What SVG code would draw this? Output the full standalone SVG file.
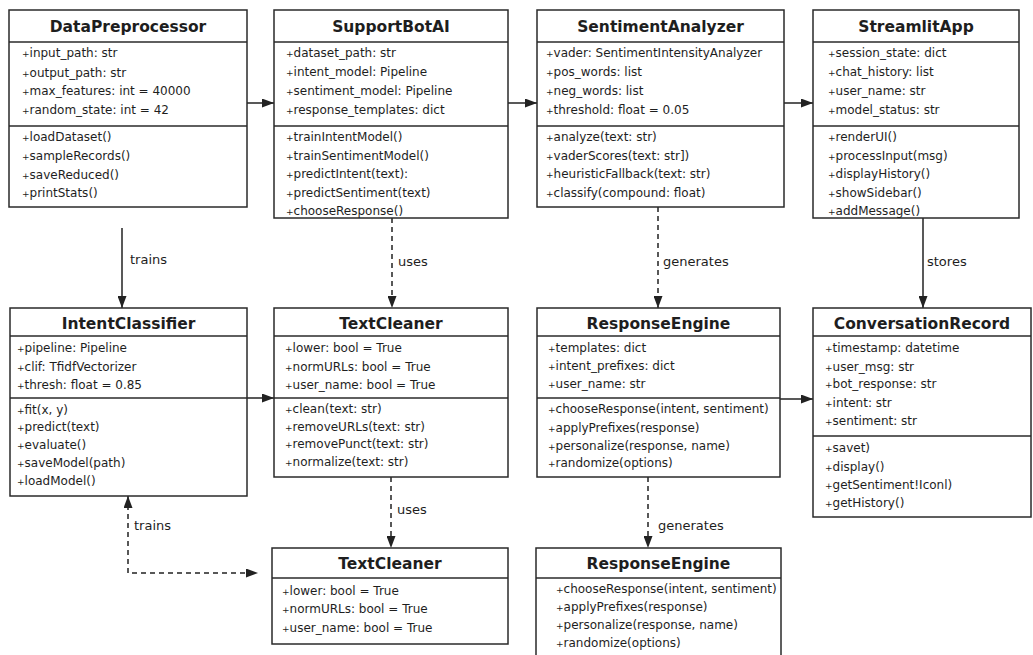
<svg xmlns="http://www.w3.org/2000/svg" width="1033" height="655" viewBox="0 0 1033 655">
<style>
.box{fill:#fff;stroke:#2a2a2a;stroke-width:1.5}
.sep{stroke:#2a2a2a;stroke-width:1.3}
.title{font-family:"DejaVu Sans",sans-serif;font-weight:bold;font-size:15.5px;fill:#1e1e1e;text-anchor:middle}
.m{font-family:"DejaVu Sans",sans-serif;font-size:12px;fill:#1e1e1e}
.p{font-size:9px}
.lbl{font-family:"DejaVu Sans",sans-serif;font-size:13px;fill:#1e1e1e}
.c{fill:none;stroke:#222;stroke-width:1.5}
.d{stroke-dasharray:5,4}
</style>
<defs>
<marker id="arr" viewBox="0 0 12 9" refX="12" refY="4.5" markerWidth="12" markerHeight="9" markerUnits="userSpaceOnUse" orient="auto-start-reverse"><path d="M0,0 L12,4.5 L0,9 z" fill="#222"/></marker>
</defs>
<rect width="1033" height="655" fill="#fff"/>

<g id="connectors">
<path class="c" d="M247,103 H274" marker-end="url(#arr)"/>
<path class="c" d="M508,103 H537" marker-end="url(#arr)"/>
<path class="c" d="M784,103 H813" marker-end="url(#arr)"/>
<path class="c" d="M122,228 V308" marker-end="url(#arr)"/>
<path class="c d" d="M392,218 V308" marker-end="url(#arr)"/>
<path class="c d" d="M658,207 V308" marker-end="url(#arr)"/>
<path class="c" d="M923,218 V308" marker-end="url(#arr)"/>
<path class="c" d="M247,398 H274" marker-end="url(#arr)"/>
<path class="c" d="M780,399 H813" marker-end="url(#arr)"/>
<path class="c d" d="M391,477 V548" marker-end="url(#arr)"/>
<path class="c d" d="M648,477 V548" marker-end="url(#arr)"/>
<path class="c d" d="M128,496 V573 H258" marker-start="url(#arr)" marker-end="url(#arr)"/>
<text class="lbl" x="130" y="264">trains</text>
<text class="lbl" x="398" y="266">uses</text>
<text class="lbl" x="663" y="266">generates</text>
<text class="lbl" x="927" y="266">stores</text>
<text class="lbl" x="397" y="514">uses</text>
<text class="lbl" x="658" y="530">generates</text>
<text class="lbl" x="134" y="530">trains</text>
</g>

<g id="DataPreprocessor">
<rect class="box" x="9" y="10" width="238" height="197"/>
<line class="sep" x1="9" y1="42" x2="247" y2="42"/>
<line class="sep" x1="9" y1="126" x2="247" y2="126"/>
<text class="title" x="128" y="32">DataPreprocessor</text>
<text class="m" x="22" y="57"><tspan class="p">+</tspan>input_path: str</text>
<text class="m" x="22" y="77"><tspan class="p">+</tspan>output_path: str</text>
<text class="m" x="22" y="95"><tspan class="p">+</tspan>max_features: int = 40000</text>
<text class="m" x="22" y="114"><tspan class="p">+</tspan>random_state: int = 42</text>
<text class="m" x="22" y="141"><tspan class="p">+</tspan>loadDataset()</text>
<text class="m" x="22" y="160"><tspan class="p">+</tspan>sampleRecords()</text>
<text class="m" x="22" y="179"><tspan class="p">+</tspan>saveReduced()</text>
<text class="m" x="22" y="197"><tspan class="p">+</tspan>printStats()</text>
</g>

<g id="SupportBotAI">
<rect class="box" x="274" y="10" width="234" height="208"/>
<line class="sep" x1="274" y1="42" x2="508" y2="42"/>
<line class="sep" x1="274" y1="126" x2="508" y2="126"/>
<text class="title" x="391" y="32">SupportBotAI</text>
<text class="m" x="286" y="57"><tspan class="p">+</tspan>dataset_path: str</text>
<text class="m" x="286" y="76"><tspan class="p">+</tspan>intent_model: Pipeline</text>
<text class="m" x="286" y="95"><tspan class="p">+</tspan>sentiment_model: Pipeline</text>
<text class="m" x="286" y="114"><tspan class="p">+</tspan>response_templates: dict</text>
<text class="m" x="286" y="141"><tspan class="p">+</tspan>trainIntentModel()</text>
<text class="m" x="286" y="160"><tspan class="p">+</tspan>trainSentimentModel()</text>
<text class="m" x="286" y="178"><tspan class="p">+</tspan>predictIntent(text):</text>
<text class="m" x="286" y="197"><tspan class="p">+</tspan>predictSentiment(text)</text>
<text class="m" x="286" y="215"><tspan class="p">+</tspan>chooseResponse()</text>
</g>

<g id="SentimentAnalyzer">
<rect class="box" x="537" y="10" width="247" height="197"/>
<line class="sep" x1="537" y1="42" x2="784" y2="42"/>
<line class="sep" x1="537" y1="126" x2="784" y2="126"/>
<text class="title" x="660.5" y="32">SentimentAnalyzer</text>
<text class="m" x="546" y="57"><tspan class="p">+</tspan>vader: SentimentIntensityAnalyzer</text>
<text class="m" x="546" y="76"><tspan class="p">+</tspan>pos_words: list</text>
<text class="m" x="546" y="95"><tspan class="p">+</tspan>neg_words: list</text>
<text class="m" x="546" y="114"><tspan class="p">+</tspan>threshold: float = 0.05</text>
<text class="m" x="546" y="141"><tspan class="p">+</tspan>analyze(text: str)</text>
<text class="m" x="546" y="160"><tspan class="p">+</tspan>vaderScores(text: str])</text>
<text class="m" x="546" y="178"><tspan class="p">+</tspan>heuristicFallback(text: str)</text>
<text class="m" x="546" y="197"><tspan class="p">+</tspan>classify(compound: float)</text>
</g>

<g id="StreamlitApp">
<rect class="box" x="813" y="10" width="206" height="208"/>
<line class="sep" x1="813" y1="42" x2="1019" y2="42"/>
<line class="sep" x1="813" y1="126" x2="1019" y2="126"/>
<text class="title" x="916" y="32">StreamlitApp</text>
<text class="m" x="828" y="57"><tspan class="p">+</tspan>session_state: dict</text>
<text class="m" x="828" y="76"><tspan class="p">+</tspan>chat_history: list</text>
<text class="m" x="828" y="95"><tspan class="p">+</tspan>user_name: str</text>
<text class="m" x="828" y="114"><tspan class="p">+</tspan>model_status: str</text>
<text class="m" x="828" y="141"><tspan class="p">+</tspan>renderUI()</text>
<text class="m" x="828" y="160"><tspan class="p">+</tspan>processInput(msg)</text>
<text class="m" x="828" y="178"><tspan class="p">+</tspan>displayHistory()</text>
<text class="m" x="828" y="197"><tspan class="p">+</tspan>showSidebar()</text>
<text class="m" x="828" y="215"><tspan class="p">+</tspan>addMessage()</text>
</g>

<g id="IntentClassifier">
<rect class="box" x="10" y="308" width="237" height="188"/>
<line class="sep" x1="10" y1="336" x2="247" y2="336"/>
<line class="sep" x1="10" y1="398" x2="247" y2="398"/>
<text class="title" x="128.5" y="329">IntentClassifier</text>
<text class="m" x="17" y="352"><tspan class="p">+</tspan>pipeline: Pipeline</text>
<text class="m" x="17" y="371"><tspan class="p">+</tspan>clif: TfidfVectorizer</text>
<text class="m" x="17" y="389"><tspan class="p">+</tspan>thresh: float =  0.85</text>
<text class="m" x="17" y="414"><tspan class="p">+</tspan>fit(x, y)</text>
<text class="m" x="17" y="431"><tspan class="p">+</tspan>predict(text)</text>
<text class="m" x="17" y="449"><tspan class="p">+</tspan>evaluate()</text>
<text class="m" x="17" y="467"><tspan class="p">+</tspan>saveModel(path)</text>
<text class="m" x="17" y="485"><tspan class="p">+</tspan>loadModel()</text>
</g>

<g id="TextCleaner">
<rect class="box" x="274" y="308" width="234" height="169"/>
<line class="sep" x1="274" y1="336" x2="508" y2="336"/>
<line class="sep" x1="274" y1="398" x2="508" y2="398"/>
<text class="title" x="391" y="329">TextCleaner</text>
<text class="m" x="285" y="352"><tspan class="p">+</tspan>lower: bool = True</text>
<text class="m" x="285" y="371"><tspan class="p">+</tspan>normURLs: bool = True</text>
<text class="m" x="285" y="389"><tspan class="p">+</tspan>user_name: bool = True</text>
<text class="m" x="285" y="413"><tspan class="p">+</tspan>clean(text: str)</text>
<text class="m" x="285" y="431"><tspan class="p">+</tspan>removeURLs(text: str)</text>
<text class="m" x="285" y="448"><tspan class="p">+</tspan>removePunct(text: str)</text>
<text class="m" x="285" y="466"><tspan class="p">+</tspan>normalize(text: str)</text>
</g>

<g id="ResponseEngine">
<rect class="box" x="537" y="308" width="243" height="169"/>
<line class="sep" x1="537" y1="336" x2="780" y2="336"/>
<line class="sep" x1="537" y1="398" x2="780" y2="398"/>
<text class="title" x="658.5" y="329">ResponseEngine</text>
<text class="m" x="548" y="352"><tspan class="p">+</tspan>templates: dict</text>
<text class="m" x="548" y="370"><tspan class="p">+</tspan>intent_prefixes: dict</text>
<text class="m" x="548" y="388"><tspan class="p">+</tspan>user_name: str</text>
<text class="m" x="548" y="413"><tspan class="p">+</tspan>chooseResponse(intent, sentiment)</text>
<text class="m" x="548" y="432"><tspan class="p">+</tspan>applyPrefixes(response)</text>
<text class="m" x="548" y="450"><tspan class="p">+</tspan>personalize(response, name)</text>
<text class="m" x="548" y="467"><tspan class="p">+</tspan>randomize(options)</text>
</g>

<g id="ConversationRecord">
<rect class="box" x="813" y="308" width="218" height="209"/>
<line class="sep" x1="813" y1="336" x2="1031" y2="336"/>
<line class="sep" x1="813" y1="436" x2="1031" y2="436"/>
<text class="title" x="922" y="329">ConversationRecord</text>
<text class="m" x="825" y="352"><tspan class="p">+</tspan>timestamp: datetime</text>
<text class="m" x="825" y="371"><tspan class="p">+</tspan>user_msg: str</text>
<text class="m" x="825" y="388"><tspan class="p">+</tspan>bot_response: str</text>
<text class="m" x="825" y="407"><tspan class="p">+</tspan>intent: str</text>
<text class="m" x="825" y="425"><tspan class="p">+</tspan>sentiment: str</text>
<text class="m" x="825" y="452"><tspan class="p">+</tspan>savet)</text>
<text class="m" x="825" y="471"><tspan class="p">+</tspan>display()</text>
<text class="m" x="825" y="489"><tspan class="p">+</tspan>getSentiment!Iconl)</text>
<text class="m" x="825" y="507"><tspan class="p">+</tspan>getHistory()</text>
</g>

<g id="TextCleaner2">
<rect class="box" x="272" y="548" width="236" height="96"/>
<line class="sep" x1="272" y1="578" x2="508" y2="578"/>
<text class="title" x="390" y="569">TextCleaner</text>
<text class="m" x="282" y="595"><tspan class="p">+</tspan>lower:  bool = True</text>
<text class="m" x="282" y="613"><tspan class="p">+</tspan>normURLs: bool = True</text>
<text class="m" x="282" y="632"><tspan class="p">+</tspan>user_name: bool = True</text>
</g>

<g id="ResponseEngine2">
<rect class="box" x="536" y="548" width="245" height="120"/>
<line class="sep" x1="536" y1="578" x2="781" y2="578"/>
<text class="title" x="658.5" y="569">ResponseEngine</text>
<text class="m" x="556" y="593"><tspan class="p">+</tspan>chooseResponse(intent, sentiment)</text>
<text class="m" x="556" y="611"><tspan class="p">+</tspan>applyPrefixes(response)</text>
<text class="m" x="556" y="629"><tspan class="p">+</tspan>personalize(response, name)</text>
<text class="m" x="556" y="647"><tspan class="p">+</tspan>randomize(options)</text>
</g>
</svg>
